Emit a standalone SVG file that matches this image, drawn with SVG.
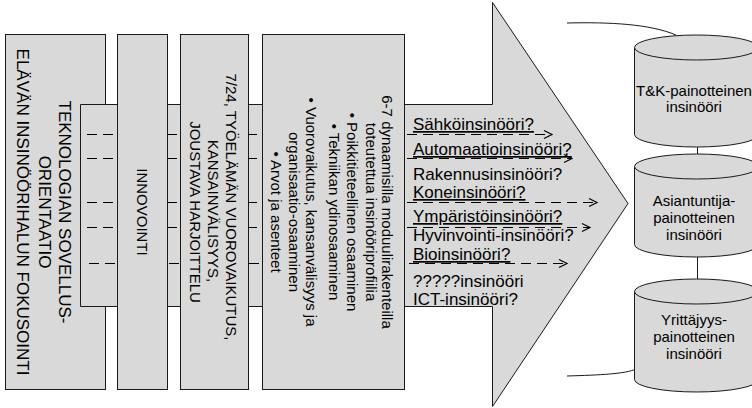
<svg xmlns="http://www.w3.org/2000/svg" width="752" height="408" viewBox="0 0 752 408">
<defs>
<style>
.box{fill:#d9d9d9;stroke:#1a1a1a;stroke-width:1}
.vt{font-family:"Liberation Sans",Arial,sans-serif;fill:#000;text-anchor:middle}
.lbl{font-family:"Liberation Sans",Arial,sans-serif;font-size:17px;fill:#000}
.dash{stroke:#000;stroke-width:1;stroke-dasharray:10,6;fill:none;marker-end:url(#chev)}
.ct{font-family:"Liberation Sans",Arial,sans-serif;font-size:15px;fill:#000;text-anchor:middle}
.cyl{fill:#d9d9d9;stroke:#1a1a1a;stroke-width:1}
.ln{fill:none;stroke:#1a1a1a;stroke-width:1}
</style>
<marker id="chev" markerUnits="userSpaceOnUse" markerWidth="12" markerHeight="12" viewBox="-10 -6 12 12" refX="0" refY="0" orient="auto">
<path d="M-8,-4 L0,0 L-8,4" fill="none" stroke="#000" stroke-width="1.2"/>
</marker>
</defs>

<g id="box-fokus">
<rect class="box" x="5.5" y="34.5" width="100" height="355"/>
</g>

<g id="big-arrow">
<path class="box" d="M80.5,104.5 L492.5,104.5 L492.5,2.5 L628,203.5 L492.5,406.5 L492.5,306.5 L80.5,306.5 Z"/>
</g>

<g id="connectors">
<line class="dash" x1="87" y1="134.5" x2="552" y2="134.5"/>
<line class="dash" x1="87" y1="158.5" x2="572" y2="158.5"/>
<line class="dash" x1="87" y1="202.5" x2="597" y2="202.5"/>
<line class="dash" x1="87" y1="227.5" x2="590" y2="227.5"/>
<line class="dash" x1="89" y1="263.5" x2="567" y2="263.5"/>
</g>

<g id="box-fokus-text">
<text class="vt" font-size="17" transform="translate(59,212) rotate(90)">TEKNOLOGIAN SOVELLUS-</text>
<text class="vt" font-size="17" transform="translate(38.5,212) rotate(90)">ORIENTAATIO</text>
<text class="vt" font-size="17" transform="translate(17,212) rotate(90)">ELÄVÄN INSINÖÖRIHALUN FOKUSOINTI</text>
</g>

<g id="box-innovointi">
<rect class="box" x="117.5" y="34.5" width="50" height="355"/>
<text class="vt" font-size="15" transform="translate(137,212) rotate(90)">INNOVOINTI</text>
</g>

<g id="box-tyoelama">
<rect class="box" x="180.5" y="34.5" width="68" height="355"/>
<text class="vt" font-size="15" transform="translate(226,207) rotate(90)">7/24, TYÖELÄMÄN VUOROVAIKUTUS,</text>
<text class="vt" font-size="15" transform="translate(208,211) rotate(90)">KANSAINVÄLISYYS,</text>
<text class="vt" font-size="15" transform="translate(190,212) rotate(90)">JOUSTAVA HARJOITTELU</text>
</g>

<g id="box-profiili">
<rect class="box" x="262.5" y="34.5" width="142" height="355"/>
<text class="vt" font-size="15" transform="translate(382,212) rotate(90)">6-7 dynaamisilla moduulirakenteilla</text>
<text class="vt" font-size="15" transform="translate(366,212) rotate(90)">toteutettua insinööriprofiilia</text>
<text class="vt" font-size="15" transform="translate(347,212) rotate(90)">• Poikkitieteellinen osaaminen</text>
<text class="vt" font-size="15" transform="translate(329,212) rotate(90)">• Tekniikan ydinosaaminen</text>
<text class="vt" font-size="15" transform="translate(306,212) rotate(90)">• Vuorovaikutus, kansanvälisyys ja</text>
<text class="vt" font-size="15" transform="translate(289,212) rotate(90)">organisaatio-osaaminen</text>
<text class="vt" font-size="15" transform="translate(271,212) rotate(90)">• Arvot ja asenteet</text>
</g>

<g id="labels">
<text class="lbl" x="413" y="130" text-decoration="underline">Sähköinsinööri?</text>
<text class="lbl" x="413" y="155" text-decoration="underline">Automaatioinsinööri?</text>
<text class="lbl" x="413" y="180">Rakennusinsinööri?</text>
<text class="lbl" x="413" y="198" text-decoration="underline">Koneinsinööri?</text>
<text class="lbl" x="413" y="222" text-decoration="underline">Ympäristöinsinööri?</text>
<text class="lbl" x="413" y="241">Hyvinvointi-insinööri?</text>
<text class="lbl" x="413" y="260" text-decoration="underline">Bioinsinööri?</text>
<text class="lbl" x="413" y="287">?????insinööri</text>
<text class="lbl" x="413" y="305">ICT-insinööri?</text>
</g>

<g id="bracket-lines">
<path class="ln" d="M567,23 C610,22 650,24 676,35"/>
<path class="ln" d="M567,376 C600,375 625,374 636,369"/>
<line class="ln" x1="697.5" y1="146" x2="697.5" y2="154"/>
<line class="ln" x1="697.5" y1="256" x2="697.5" y2="279"/>
</g>

<g id="cyl-tk">
<path class="cyl" d="M634.5,47.5 L634.5,134.5 A62,12.5 0 0 0 758.5,134.5 L758.5,47.5"/>
<ellipse class="cyl" cx="696.5" cy="47.5" rx="62" ry="12.5"/>
<text class="ct" x="694" y="96">T&amp;K-painotteinen</text>
<text class="ct" x="694" y="112">insinööri</text>
</g>

<g id="cyl-asiantuntija">
<path class="cyl" d="M634.5,166.5 L634.5,244.5 A62,12.5 0 0 0 758.5,244.5 L758.5,166.5"/>
<ellipse class="cyl" cx="696.5" cy="166.5" rx="62" ry="12.5"/>
<text class="ct" x="694" y="206">Asiantuntija-</text>
<text class="ct" x="694" y="223">painotteinen</text>
<text class="ct" x="694" y="240">insinööri</text>
</g>

<g id="cyl-yrittajyys">
<path class="cyl" d="M634.5,291.5 L634.5,379.5 A62,12.5 0 0 0 758.5,379.5 L758.5,291.5"/>
<ellipse class="cyl" cx="696.5" cy="291.5" rx="62" ry="12.5"/>
<text class="ct" x="694" y="325">Yrittäjyys-</text>
<text class="ct" x="694" y="342">painotteinen</text>
<text class="ct" x="694" y="359">insinööri</text>
</g>
</svg>
